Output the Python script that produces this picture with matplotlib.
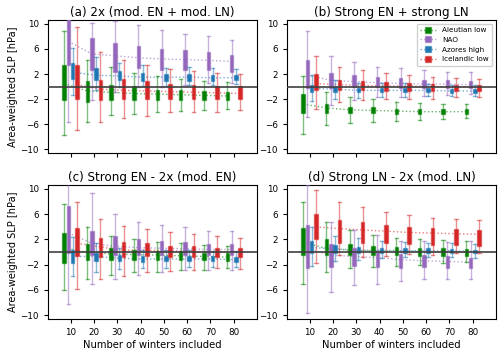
import matplotlib
matplotlib.use("Agg")
import matplotlib.pyplot as plt
from matplotlib.lines import Line2D
from matplotlib.colors import to_rgba
import numpy as np

winters = [10, 20, 30, 40, 50, 60, 70, 80]
series_names = ["Aleutian low", "NAO", "Azores high", "Icelandic low"]
colors = ["green", "tab:purple", "tab:blue", "tab:red"]
titles = ["(a) 2x (mod. EN + mod. LN)", "(b) Strong EN + strong LN",
          "(c) Strong EN - 2x (mod. EN)", "(d) Strong LN - 2x (mod. LN)"]

# each series: [whislo, q1, med, q3, whishi] per winters value
# ---- panel (a)
a_aleutian = [[-7.7, -2.1, 0.5, 3.4, 8.8], [-5.6, -2.4, -0.7, 0.9, 4.2], [-4.5, -2.1, -0.9, 0.2, 3.1],
              [-4.4, -2.1, -1.1, 0.1, 2.1], [-4.1, -2.2, -1.2, -0.6, 1.7], [-3.9, -2.2, -1.3, -0.6, 1.2],
              [-3.7, -2.2, -1.4, -0.7, 0.9], [-3.6, -2.2, -1.5, -0.8, 0.8]]
a_nao = [[-5.6, 3.4, 7.2, 12.0, 17.0], [-2.1, 2.6, 5.2, 7.7, 10.2], [-0.8, 2.3, 4.9, 6.9, 10.5],
         [0.0, 3.0, 4.6, 6.5, 9.8], [0.0, 2.7, 4.4, 6.0, 9.0], [0.2, 2.7, 4.3, 5.8, 8.4],
         [0.6, 2.7, 4.2, 5.5, 8.0], [0.5, 2.3, 4.0, 5.1, 7.4]]
a_azores = [[-1.3, 1.2, 2.3, 3.7, 6.1], [-0.6, 1.0, 1.8, 2.9, 4.7], [0.0, 1.0, 1.7, 2.5, 3.7],
            [0.1, 0.9, 1.5, 2.1, 3.4], [0.1, 0.9, 1.5, 2.0, 2.9], [0.2, 0.9, 1.5, 2.0, 3.1],
            [0.3, 0.9, 1.4, 1.9, 2.9], [0.4, 1.0, 1.4, 1.8, 2.8]]
a_iceland = [[-6.9, -2.0, 0.3, 3.4, 9.5], [-5.6, -2.1, -0.4, 1.0, 5.5], [-5.0, -2.0, -0.6, 1.2, 4.3],
             [-4.7, -1.9, -0.7, 0.9, 3.5], [-4.1, -2.0, -0.8, 0.4, 2.8], [-4.1, -2.0, -0.9, 0.2, 2.5],
             [-4.0, -2.0, -1.0, 0.1, 2.2], [-3.8, -2.0, -1.1, 0.1, 2.0]]
# ---- panel (b)
b_aleutian = [[-7.5, -4.2, -2.8, -1.2, 1.7], [-6.1, -4.2, -3.4, -2.8, -0.8], [-5.8, -4.2, -3.7, -3.2, -1.6],
              [-5.6, -4.2, -3.8, -3.3, -2.0], [-5.5, -4.4, -3.9, -3.5, -2.4], [-5.3, -4.4, -4.0, -3.6, -2.6],
              [-5.2, -4.4, -4.0, -3.6, -2.7], [-5.0, -4.4, -4.0, -3.6, -2.8]]
b_nao = [[-4.8, -0.3, 1.8, 4.3, 8.9], [-2.9, -0.3, 1.0, 2.2, 4.9], [-2.1, -0.1, 0.8, 1.8, 3.9],
         [-1.7, -0.1, 0.6, 1.5, 3.1], [-1.7, -0.2, 0.5, 1.3, 2.9], [-1.5, -0.2, 0.4, 1.1, 2.7],
         [-1.3, -0.2, 0.4, 1.0, 2.3], [-1.2, -0.2, 0.3, 0.9, 2.3]]
b_azores = [[-2.3, -0.8, -0.3, 0.2, 1.8], [-2.0, -0.8, -0.4, 0.0, 1.0], [-1.8, -0.9, -0.6, -0.2, 0.6],
            [-1.7, -0.9, -0.6, -0.3, 0.5], [-1.6, -0.9, -0.6, -0.3, 0.5], [-1.5, -0.9, -0.6, -0.3, 0.4],
            [-1.5, -1.0, -0.7, -0.4, 0.3], [-1.5, -1.0, -0.7, -0.4, 0.2]]
b_iceland = [[-3.5, -0.6, 0.5, 2.0, 4.8], [-2.4, -0.5, 0.3, 1.1, 3.1], [-2.2, -0.6, 0.2, 0.9, 2.6],
             [-2.0, -0.7, 0.1, 0.7, 2.1], [-1.9, -0.7, 0.1, 0.5, 1.8], [-1.9, -0.7, 0.0, 0.4, 1.6],
             [-1.7, -0.7, 0.0, 0.3, 1.4], [-1.7, -0.7, -0.1, 0.2, 1.2]]
# ---- panel (c)
c_aleutian = [[-6.0, -1.7, 0.6, 3.0, 7.6], [-4.2, -1.3, 0.0, 1.3, 3.9], [-3.7, -1.3, -0.3, 0.6, 2.5],
              [-3.1, -1.2, -0.4, 0.3, 2.0], [-3.1, -1.3, -0.5, 0.2, 1.6], [-2.8, -1.3, -0.6, 0.1, 1.4],
              [-2.8, -1.3, -0.7, -0.1, 1.1], [-2.5, -1.4, -0.8, -0.2, 1.0]]
c_nao = [[-8.3, -0.2, 3.0, 7.3, 11.5], [-5.0, -0.5, 1.4, 3.4, 9.3], [-4.2, -0.5, 0.9, 2.5, 6.0],
         [-3.7, -0.5, 0.7, 2.1, 4.8], [-3.1, -0.5, 0.6, 1.8, 4.3], [-2.8, -0.5, 0.5, 1.6, 3.9],
         [-2.8, -0.5, 0.4, 1.3, 3.3], [-2.8, -0.5, 0.4, 1.3, 3.3]]
c_azores = [[-3.8, -1.7, -0.7, 0.3, 2.4], [-3.1, -1.4, -0.7, -0.1, 1.5], [-2.7, -1.5, -1.0, -0.5, 0.7],
            [-2.6, -1.6, -1.1, -0.6, 0.4], [-2.6, -1.5, -1.1, -0.6, 0.3], [-2.4, -1.5, -1.1, -0.7, 0.3],
            [-2.4, -1.5, -1.1, -0.7, 0.2], [-2.4, -1.6, -1.2, -0.8, 0.2]]
c_iceland = [[-5.8, -0.6, 1.4, 3.8, 8.0], [-4.3, -0.8, 0.8, 2.3, 5.3], [-3.8, -0.8, 0.3, 1.6, 4.2],
             [-3.1, -0.7, 0.3, 1.4, 3.6], [-3.0, -0.8, 0.2, 1.0, 3.2], [-2.8, -0.8, 0.1, 1.0, 2.9],
             [-2.6, -0.8, 0.0, 0.7, 2.6], [-2.7, -0.8, 0.0, 0.6, 2.3]]
# ---- panel (d)
d_aleutian = [[-5.0, -0.5, 1.5, 3.8, 8.0], [-3.1, -0.5, 0.6, 2.1, 4.7], [-2.6, -0.5, 0.3, 1.3, 3.5],
              [-2.3, -0.5, 0.2, 1.0, 2.7], [-2.2, -0.5, 0.1, 0.8, 2.3], [-2.0, -0.6, 0.1, 0.7, 2.0],
              [-1.8, -0.6, 0.0, 0.6, 1.9], [-1.6, -0.6, 0.0, 0.5, 1.7]]
d_nao = [[-9.6, -2.5, 0.5, 4.3, 10.6], [-6.3, -2.3, -0.5, 1.3, 4.7], [-5.2, -2.2, -0.7, 0.7, 3.5],
         [-5.1, -2.3, -0.9, 0.2, 2.7], [-4.6, -2.5, -1.2, -0.3, 1.7], [-4.3, -2.3, -1.4, -0.5, 1.7],
         [-4.3, -2.5, -1.5, -0.7, 1.6], [-4.2, -2.5, -1.6, -0.9, 1.7]]
d_azores = [[-2.2, -0.2, 0.7, 1.7, 3.9], [-1.5, -0.1, 0.5, 1.1, 2.6], [-1.2, -0.1, 0.3, 0.8, 2.2],
            [-1.0, -0.1, 0.3, 0.7, 1.8], [-0.8, -0.2, 0.2, 0.6, 1.6], [-0.8, -0.2, 0.2, 0.6, 1.5],
            [-0.8, -0.2, 0.2, 0.5, 1.4], [-1.0, -0.2, 0.1, 0.4, 1.2]]
d_iceland = [[-1.8, 2.0, 4.0, 6.0, 9.8], [-0.5, 1.5, 3.7, 5.1, 8.0], [-0.8, 1.5, 3.5, 4.7, 7.1],
             [-0.6, 1.4, 3.3, 4.3, 6.4], [-0.3, 1.2, 3.1, 3.9, 5.9], [-0.5, 1.1, 3.0, 3.8, 5.4],
             [-0.2, 1.1, 2.9, 3.7, 5.3], [-0.2, 0.9, 2.8, 3.5, 5.0]]

panels = [
    [a_aleutian, a_nao, a_azores, a_iceland],
    [b_aleutian, b_nao, b_azores, b_iceland],
    [c_aleutian, c_nao, c_azores, c_iceland],
    [d_aleutian, d_nao, d_azores, d_iceland],
]

offsets = [-2.75, -0.92, 0.92, 2.75]
yticks = [-10, -6, -2, 2, 6, 10]

fig = plt.figure(figsize=(5.0, 3.52), dpi=100)
rects = [
    [0.096, 0.565, 0.418, 0.378],
    [0.574, 0.565, 0.418, 0.378],
    [0.096, 0.094, 0.418, 0.380],
    [0.574, 0.094, 0.418, 0.380],
]

BW = 1.5
for pi, (rect, pdata) in enumerate(zip(rects, panels)):
    ax = fig.add_axes(rect)
    for si, (sdata, col) in enumerate(zip(pdata, colors)):
        pos = [w + offsets[si] for w in winters]
        stats = []
        for row in sdata:
            lo, q1, med, q3, hi = row
            stats.append(dict(med=med, q1=q1, q3=q3, whislo=lo, whishi=hi, fliers=[]))
        meds = [r[2] for r in sdata]
        light = to_rgba(col, 0.5)
        ax.plot(pos, meds, ':', color=col, alpha=0.6, lw=1.0, zorder=2)
        ax.bxp(stats, positions=pos, widths=BW, capwidths=BW, patch_artist=True,
               showfliers=False, manage_ticks=False,
               boxprops=dict(facecolor=col, edgecolor=light, linewidth=1.0),
               whiskerprops=dict(color=light, linewidth=1.0),
               capprops=dict(color=light, linewidth=1.0),
               medianprops=dict(color=col, linewidth=0.0),
               zorder=3)
    ax.axhline(0, color="0.25", lw=1.2, zorder=5)
    ax.set_xlim(0.3, 90.0)
    ax.set_ylim(-10.6, 10.6)
    ax.set_yticks(yticks)
    ax.set_xticks(winters)
    ax.tick_params(labelsize=6.3, length=3, width=0.8)
    ax.set_title(titles[pi], fontsize=8.6, pad=3)
    if pi in (0, 2):
        ax.set_ylabel("Area-weighted SLP [hPa]", fontsize=7, labelpad=2)
    if pi in (2, 3):
        ax.set_xlabel("Number of winters included", fontsize=7.2, labelpad=2)
    else:
        ax.set_xticklabels([])
    if pi == 1:
        handles = [Line2D([], [], color=to_rgba(c, 0.6), ls=':', lw=1.0, marker='s', markersize=5,
                          markerfacecolor=c, markeredgecolor=to_rgba(c, 0.5)) for c in colors]
        ax.legend(handles, series_names, loc="upper right", fontsize=5.2,
                  framealpha=0.9, handlelength=2.2, borderpad=0.5, labelspacing=0.5)

fig.savefig("out.png", dpi=100)
